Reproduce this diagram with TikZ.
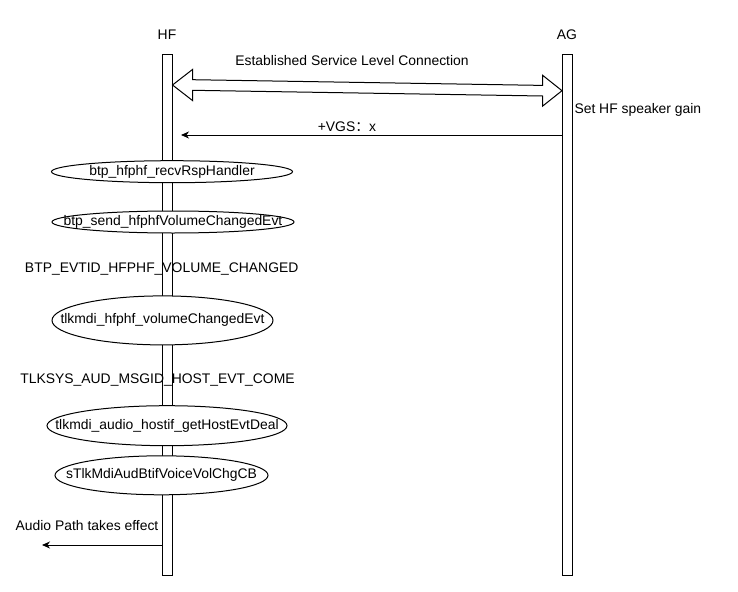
\documentclass[tikz,border=0pt]{standalone}
\usepackage{fontspec}
\setmainfont{Liberation Sans}
\newfontfamily\cjk{Noto Sans CJK SC}
\usetikzlibrary{calc,arrows.meta,shapes.geometric}
\newcommand{\fnname}[1]{\makebox[0pt]{#1}}

\begin{document}
\begin{tikzpicture}[x=1pt,y=-1pt,line width=1pt,font=\fontsize{13.9}{16}\selectfont,
    lifeline/.style={draw,fill=white,minimum width=10pt,minimum height=520pt,inner sep=0pt},
    func/.style={draw,fill=white,ellipse,inner sep=0pt},
    msg/.style={-{Stealth[length=8pt,width=7pt,inset=2.5pt]}}]
        \useasboundingbox (0,0) rectangle (738,591);

        \node (hf) at (167,35) {HF};
        \node (ag) at (567,35) {AG};
        \node[lifeline] (hfl) at (167,315) {};
        \node[lifeline] (agl) at (567.5,315) {};

        % service level connection
        \coordinate (slL) at (172.5,85);
        \coordinate (slR) at (562,90.7);
        \draw (slL) -- ($(slL)+(20,-15.5)$) -- ($(slL)+(20,-5.3)$) -- ($(slR)+(-19.5,-5.3)$)
            -- ($(slR)+(-19.5,-15.5)$) -- (slR) -- ($(slR)+(-19.5,15.5)$) -- ($(slR)+(-19.5,5.3)$)
            -- ($(slL)+(20,5.3)$) -- ($(slL)+(20,15.5)$) -- cycle;
        \node (slc) at (352,60.7) {Established Service Level Connection};

        \node[anchor=west,inner sep=0pt] (gain) at (574,110) {Set HF speaker gain};
        \coordinate (vgsA) at (562.5,135);
        \coordinate (vgsB) at (181,135);
        \draw[msg] (vgsA) -- (vgsB);
        \node (vgs) at (347,127) {+VGS{\cjk ：}x};

        \node[func,minimum width=241pt,minimum height=22pt] (recv) at (172,171.7) {\fnname{btp\_hfphf\_recvRspHandler}};
        \node[func,minimum width=242pt,minimum height=22pt] (send) at (173,222) {\fnname{btp\_send\_hfphfVolumeChangedEvt}};
        \node (evtid) at (161.7,269) {BTP\_EVTID\_HFPHF\_VOLUME\_CHANGED};
        \node[func,minimum width=221pt,minimum height=49pt] (vol) at (162.5,320.4) {\fnname{tlkmdi\_hfphf\_volumeChangedEvt}};
        \node (msgid) at (157.5,380) {TLKSYS\_AUD\_MSGID\_HOST\_EVT\_COME};
        \node[func,minimum width=240pt,minimum height=40pt] (host) at (167,425.7) {\fnname{tlkmdi\_audio\_hostif\_getHostEvtDeal}};
        \node[func,minimum width=213pt,minimum height=39pt] (volcb) at (161.5,475.3) {\fnname{sTlkMdiAudBtifVoiceVolChgCB}};

        \node (path) at (87,525.7) {Audio Path takes effect};
        \coordinate (pathA) at (162,545);
        \coordinate (pathB) at (42,545);
        \draw[msg] (pathA) -- (pathB);
\end{tikzpicture}
\end{document}
